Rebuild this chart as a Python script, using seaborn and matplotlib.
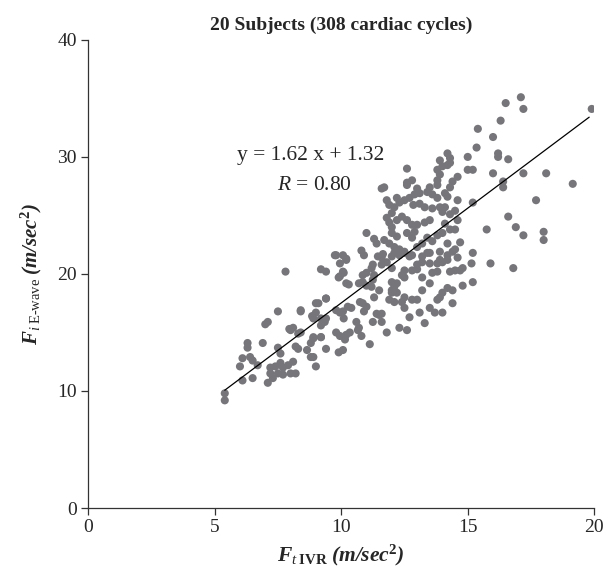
import numpy as np
import pandas as pd
import matplotlib
matplotlib.use("Agg")
import matplotlib.pyplot as plt
import seaborn as sns

# points, grouped by region
lower_left = [
    (5.4, 9.2), (5.4, 9.8),
    (7.8, 20.2), (9.2, 20.4), (9.4, 20.2), (9.75, 21.6), (9.9, 19.7), (9.4, 17.9), (9.0, 17.5),
    (7.5, 16.8), (8.4, 16.8), (7.1, 15.9), (7.0, 15.7), (8.0, 15.2), (7.95, 15.3), (8.9, 16.2),
    (9.0, 16.7), (9.4, 16.2), (9.2, 15.6), (8.4, 15.0),
    (8.9, 14.5), (9.2, 14.6), (8.8, 14.1), (6.3, 14.1), (6.3, 13.7), (6.9, 14.1), (6.1, 12.8),
    (6.4, 12.9), (6.5, 12.6),
    (7.5, 13.7), (7.6, 13.2), (8.2, 13.8), (8.3, 13.6), (8.65, 13.5), (8.8, 12.9), (8.9, 12.9),
    (9.4, 13.6), (9.9, 13.3),
    (6.0, 12.1), (6.7, 12.2), (7.2, 12.0), (7.4, 12.1), (7.6, 12.4), (7.7, 12.0), (7.9, 12.2),
    (8.1, 12.5),
    (7.2, 11.5), (7.5, 11.5), (7.7, 11.4), (8.0, 11.5), (8.2, 11.5), (9.0, 12.1), (6.1, 10.9),
    (6.5, 11.1), (7.3, 11.1), (7.1, 10.7),
]

mid_left = [
    (9.8, 21.6), (9.95, 20.9), (10.2, 21.3), (9.95, 19.8), (10.1, 20.1), (10.8, 22.0),
    (10.9, 21.6), (11.0, 23.5), (11.3, 23.0), (11.4, 22.6), (11.45, 21.5), (11.6, 21.4),
    (8.4, 16.9), (9.1, 17.5), (9.4, 17.9), (8.1, 15.4), (9.2, 16.2), (8.85, 16.4), (9.35, 15.9),
    (9.8, 16.9), (9.95, 16.7), (10.1, 16.2), (9.8, 15.0), (9.95, 14.7), (10.2, 14.8), (8.3, 14.9),
    (8.9, 14.6), (9.2, 14.6),
]

middle = [
    (10.07, 20.2), (10.2, 19.2), (10.3, 19.1), (10.85, 19.9), (11.0, 20.1), (11.2, 20.5),
    (11.25, 20.8), (10.7, 19.2), (10.2, 21.2), (10.07, 21.6), (11.6, 20.8), (11.8, 21.0),
    (12.0, 21.5), (12.1, 21.8), (12.3, 21.6), (12.5, 21.8), (12.7, 21.5), (12.8, 21.6),
    (13.0, 20.8), (13.2, 21.0), (13.2, 21.5), (13.4, 21.8), (13.8, 20.9), (13.9, 21.2),
    (14.0, 21.0), (14.2, 21.2), (14.3, 20.2), (14.5, 20.3), (14.8, 20.5), (14.4, 21.9),
    (14.5, 22.1),
    (11.5, 18.6), (11.2, 18.9), (11.25, 19.5), (11.3, 19.9), (12.5, 19.7), (12.4, 19.9),
    (13.2, 19.7), (13.6, 20.1), (13.2, 18.6), (13.5, 19.2), (12.0, 18.6), (12.1, 18.9),
    (12.2, 19.2), (12.0, 19.3), (12.8, 17.8), (13.0, 17.8), (12.5, 17.1), (11.9, 17.8),
    (12.1, 17.6), (12.4, 17.6), (12.5, 18.0), (12.2, 18.4), (12.0, 18.4), (13.8, 17.8),
    (13.9, 18.0), (14.0, 18.4), (14.2, 18.8), (14.4, 18.6), (14.4, 17.5), (14.8, 19.0),
    (12.7, 16.3), (13.1, 16.7), (13.5, 17.1), (13.7, 16.7),
    (11.25, 15.9), (11.5, 16.5), (11.6, 15.9), (11.4, 16.6), (11.6, 16.6), (10.9, 16.8),
    (11.0, 17.2), (10.85, 17.5), (10.26, 17.2), (10.4, 17.1), (10.07, 16.8), (10.74, 17.6),
    (11.8, 15.0), (12.3, 15.4), (10.34, 15.0), (10.66, 15.2), (10.8, 14.7), (10.6, 15.9),
    (10.7, 15.4), (11.13, 14.0), (10.15, 14.4), (10.07, 13.5),
    (11.3, 18.0), (10.85, 19.3), (11.0, 19.0), (12.6, 15.2), (13.3, 15.8), (14.0, 16.7),
]

upper_mid = [
    (14.2, 30.3), (14.3, 29.9), (13.9, 29.7), (13.8, 28.9), (14.2, 29.3), (12.6, 29.0),
    (11.7, 27.4), (12.6, 27.8), (12.8, 28.0), (13.8, 28.0), (13.9, 28.5), (13.8, 27.6),
    (14.6, 28.3), (14.4, 27.9), (14.3, 27.4), (13.5, 27.4), (13.4, 27.0), (13.1, 26.9),
    (12.9, 26.8), (13.6, 26.8), (13.8, 26.5), (14.1, 26.9), (14.2, 26.6), (14.6, 26.3),
    (11.8, 26.3), (11.9, 25.9), (12.1, 25.7), (12.3, 26.1), (12.5, 26.3), (12.7, 26.5),
    (12.85, 25.9), (13.1, 26.0), (13.3, 25.7), (13.6, 25.6), (13.9, 25.7), (14.1, 25.7),
    (14.3, 25.1), (14.0, 25.3),
    (11.9, 24.4), (12.0, 24.0), (12.2, 24.6), (12.4, 24.9), (12.6, 24.6), (12.8, 24.2),
    (12.9, 23.6), (13.0, 24.2), (13.5, 24.6),
    (12.0, 23.5), (12.2, 23.2), (12.6, 23.5), (12.8, 23.1), (13.8, 23.3), (14.0, 23.5),
    (14.3, 23.8), (14.5, 23.8), (14.7, 22.7), (14.2, 22.6), (13.6, 22.8), (13.4, 23.1),
    (13.2, 22.6), (13.0, 22.3),
    (11.9, 22.6), (12.1, 22.3), (12.3, 22.1), (12.5, 21.9), (13.5, 21.8), (13.9, 21.9),
    (14.2, 21.6), (14.6, 21.4), (13.5, 20.9), (11.7, 22.9), (11.65, 21.7),
    (12.0, 20.5), (12.8, 20.3), (13.8, 20.2), (12.5, 20.3), (13.0, 20.4),
    (14.0, 29.2), (14.3, 29.5), (12.6, 27.6), (11.6, 27.3), (12.2, 26.5), (13.0, 27.3),
    (14.5, 25.4), (12.0, 25.2), (11.8, 24.8), (13.3, 24.4), (14.1, 24.3), (14.6, 24.6),
]

upper_right = [
    (16.5, 34.6), (17.1, 35.1), (17.2, 34.1), (19.9, 34.1), (16.3, 33.1), (15.4, 32.4),
    (16.0, 31.7), (15.35, 30.8), (15.0, 30.0), (16.2, 30.3), (16.2, 30.0), (16.6, 29.8),
    (15.0, 28.9), (15.2, 28.9), (16.0, 28.6), (17.2, 28.6), (18.1, 28.6), (16.4, 27.9),
    (16.4, 27.4), (19.15, 27.7), (17.7, 26.3), (16.6, 24.9), (15.75, 23.8), (16.9, 24.0),
    (17.2, 23.3), (18.0, 23.6), (18.0, 22.9), (15.9, 20.9), (16.8, 20.5), (15.2, 26.1),
    (15.2, 21.8), (14.7, 20.3), (15.15, 20.9), (15.2, 19.3),
]

all_pts = lower_left + mid_left + middle + upper_mid + upper_right
df = pd.DataFrame(all_pts, columns=["ivr", "ewave"])

# fit reported on the chart
slope, intercept, r_val = 1.62, 1.32, 0.80
line_x = np.array([5.4, 19.8])

sns.set_style("white")
plt.rcParams["font.family"] = ["Liberation Serif", "DejaVu Serif"]
plt.rcParams["mathtext.fontset"] = "custom"
plt.rcParams["mathtext.rm"] = "Liberation Serif"
plt.rcParams["mathtext.it"] = "Liberation Serif:italic"
plt.rcParams["mathtext.bf"] = "Liberation Serif:bold"
plt.rcParams["mathtext.bfit"] = "Liberation Serif:italic:bold"

fig = plt.figure(figsize=(6.12, 5.73), dpi=100)
ax = fig.add_axes([0.144, 0.1134, 0.827, 0.817])

sns.scatterplot(data=df, x="ivr", y="ewave", ax=ax, color="#75757a",
                s=34, edgecolor="none", linewidth=0, zorder=2)
ax.plot(line_x, slope * line_x + intercept, color="black", linewidth=0.9, zorder=3)

ax.set_xlim(0, 20)
ax.set_ylim(0, 40)
ax.set_xticks([0, 5, 10, 15, 20])
ax.set_yticks([0, 10, 20, 30, 40])
ax.tick_params(axis="both", labelsize=14, length=5, width=0.9, color="#333333",
               direction="out", left=True, bottom=True, pad=3)
for side in ["top", "right"]:
    ax.spines[side].set_visible(False)
for side in ["left", "bottom"]:
    ax.spines[side].set_color("#333333")
    ax.spines[side].set_linewidth(0.9)

ax.set_title("20 Subjects (308 cardiac cycles)", fontsize=14, fontweight="bold", pad=7)
ax.set_xlabel(r"$\mathbfit{F}_{\mathit{t}\;\mathbf{IVR}}\;\mathbfit{(m/sec}^{\mathbf{2}}\mathbfit{)}$",
              fontsize=15.5, labelpad=5)
ax.set_ylabel(r"$\mathbfit{F}_{\mathit{i}\;\mathrm{E\text{-}wave}}\;\mathbfit{(m/sec}^{\mathbf{2}}\mathbfit{)}$",
              fontsize=15, labelpad=10)

ax.text(8.8, 30.1, f"y = {slope:.2f} x + {intercept:.2f}", fontsize=15.5,
        ha="center", va="center")
ax.text(8.95, 27.6, r"$\mathit{R}$" + f" = {r_val:.2f}", fontsize=15.5,
        ha="center", va="center")

plt.savefig("out.png", dpi=100)
